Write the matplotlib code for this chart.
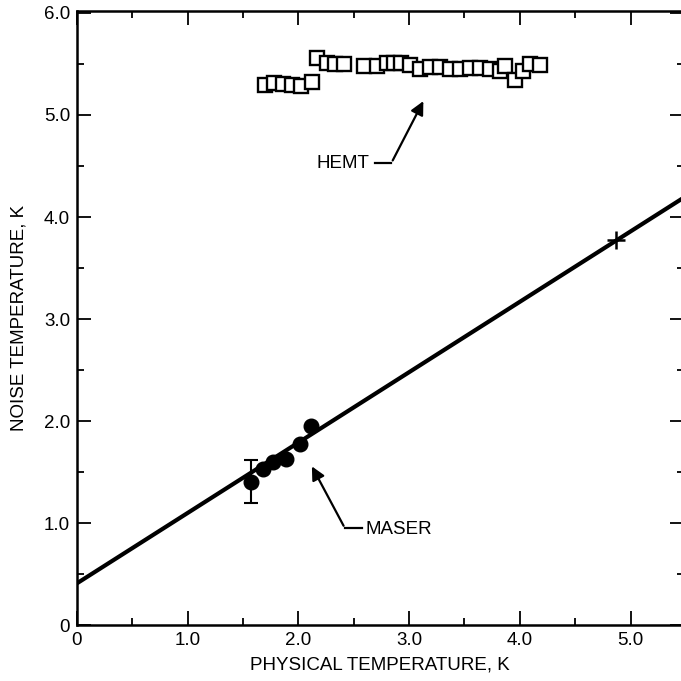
import matplotlib.pyplot as plt
from matplotlib.ticker import MultipleLocator, FixedFormatter, FixedLocator

plt.rcParams['font.family'] = ['Liberation Sans', 'DejaVu Sans']

# maser measurements (filled circles)
maser_x = [1.57, 1.68, 1.77, 1.89, 2.01, 2.11]
maser_y = [1.40, 1.53, 1.60, 1.63, 1.78, 1.95]
err_lo = 0.20
err_hi = 0.22

# HEMT measurements (open squares)
hemt_x = [1.70, 1.78, 1.86, 1.94, 2.02, 2.12,
          2.17, 2.26, 2.33, 2.41, 2.59, 2.71, 2.80, 2.86, 2.93, 3.01,
          3.10, 3.19, 3.28, 3.37, 3.46, 3.55, 3.64, 3.73, 3.82, 3.87,
          3.96, 4.03, 4.09, 4.18]
hemt_y = [5.29, 5.31, 5.30, 5.29, 5.28, 5.32,
          5.56, 5.51, 5.50, 5.50, 5.48, 5.48, 5.51, 5.51, 5.51, 5.49,
          5.45, 5.47, 5.47, 5.45, 5.45, 5.46, 5.46, 5.45, 5.43, 5.48,
          5.34, 5.43, 5.50, 5.49]

# straight-line fit, read at the two ends of the axes
fit_x = [0.0, 5.48]
fit_y = [0.41, 4.19]

# single point marked with a cross
cross_x = [4.87]
cross_y = [3.77]

xticks = [0, 1, 2, 3, 4, 5]
xlabels = ['0', '1.0', '2.0', '3.0', '4.0', '5.0']
yticks = [0, 1, 2, 3, 4, 5, 6]
ylabels = ['0', '1.0', '2.0', '3.0', '4.0', '5.0', '6.0']

FS = 13.5

fig = plt.figure(figsize=(6.81, 6.81), dpi=100)
# right edge of the axes sits just outside the picture, as in the scan
ax = fig.add_axes([0.113, 0.082, 0.891, 0.902])

ax.plot(fit_x, fit_y, color='black', lw=3, solid_capstyle='butt', zorder=2)
ax.plot(cross_x, cross_y, marker='+', color='black', ms=13, mew=1.8, ls='none', zorder=3)

ax.errorbar(maser_x[:1], maser_y[:1], yerr=[[err_lo], [err_hi]], fmt='none',
            ecolor='black', elinewidth=1.5, capsize=5, capthick=1.5, zorder=3)
ax.plot(maser_x, maser_y, 'o', color='black', ms=10.5, ls='none', zorder=4)

ax.plot(hemt_x, hemt_y, 's', mfc='white', mec='black', mew=1.7, ms=9.5,
        ls='none', zorder=4)

# annotations
arrow = dict(arrowstyle='-|>', color='black', lw=1.6, mutation_scale=20)
ax.plot([2.69, 2.84], [4.53, 4.53], color='black', lw=1.6)
ax.annotate('', xy=(3.14, 5.16), xytext=(2.84, 4.53), arrowprops=arrow)
ax.text(2.64, 4.52, 'HEMT', ha='right', va='center', fontsize=FS)

ax.plot([2.42, 2.57], [0.95, 0.95], color='black', lw=1.6)
ax.annotate('', xy=(2.11, 1.58), xytext=(2.42, 0.95), arrowprops=arrow)
ax.text(2.61, 0.94, 'MASER', ha='left', va='center', fontsize=FS)

ax.set_xlim(0, 5.48)
ax.set_ylim(0, 6.02)
ax.xaxis.set_major_locator(FixedLocator(xticks))
ax.xaxis.set_major_formatter(FixedFormatter(xlabels))
ax.yaxis.set_major_locator(FixedLocator(yticks))
ax.yaxis.set_major_formatter(FixedFormatter(ylabels))
ax.xaxis.set_minor_locator(MultipleLocator(0.5))
ax.yaxis.set_minor_locator(MultipleLocator(0.5))

ax.tick_params(which='both', direction='in', top=True, right=True,
               labelsize=FS, width=1.3, pad=5)
ax.tick_params(which='major', length=10)
ax.tick_params(which='minor', length=5)
for s in ax.spines.values():
    s.set_linewidth(1.8)

ax.set_xlabel('PHYSICAL TEMPERATURE, K', fontsize=FS, labelpad=5)
ax.set_ylabel('NOISE TEMPERATURE, K', fontsize=FS, labelpad=12)

fig.savefig('out.png', dpi=100)
